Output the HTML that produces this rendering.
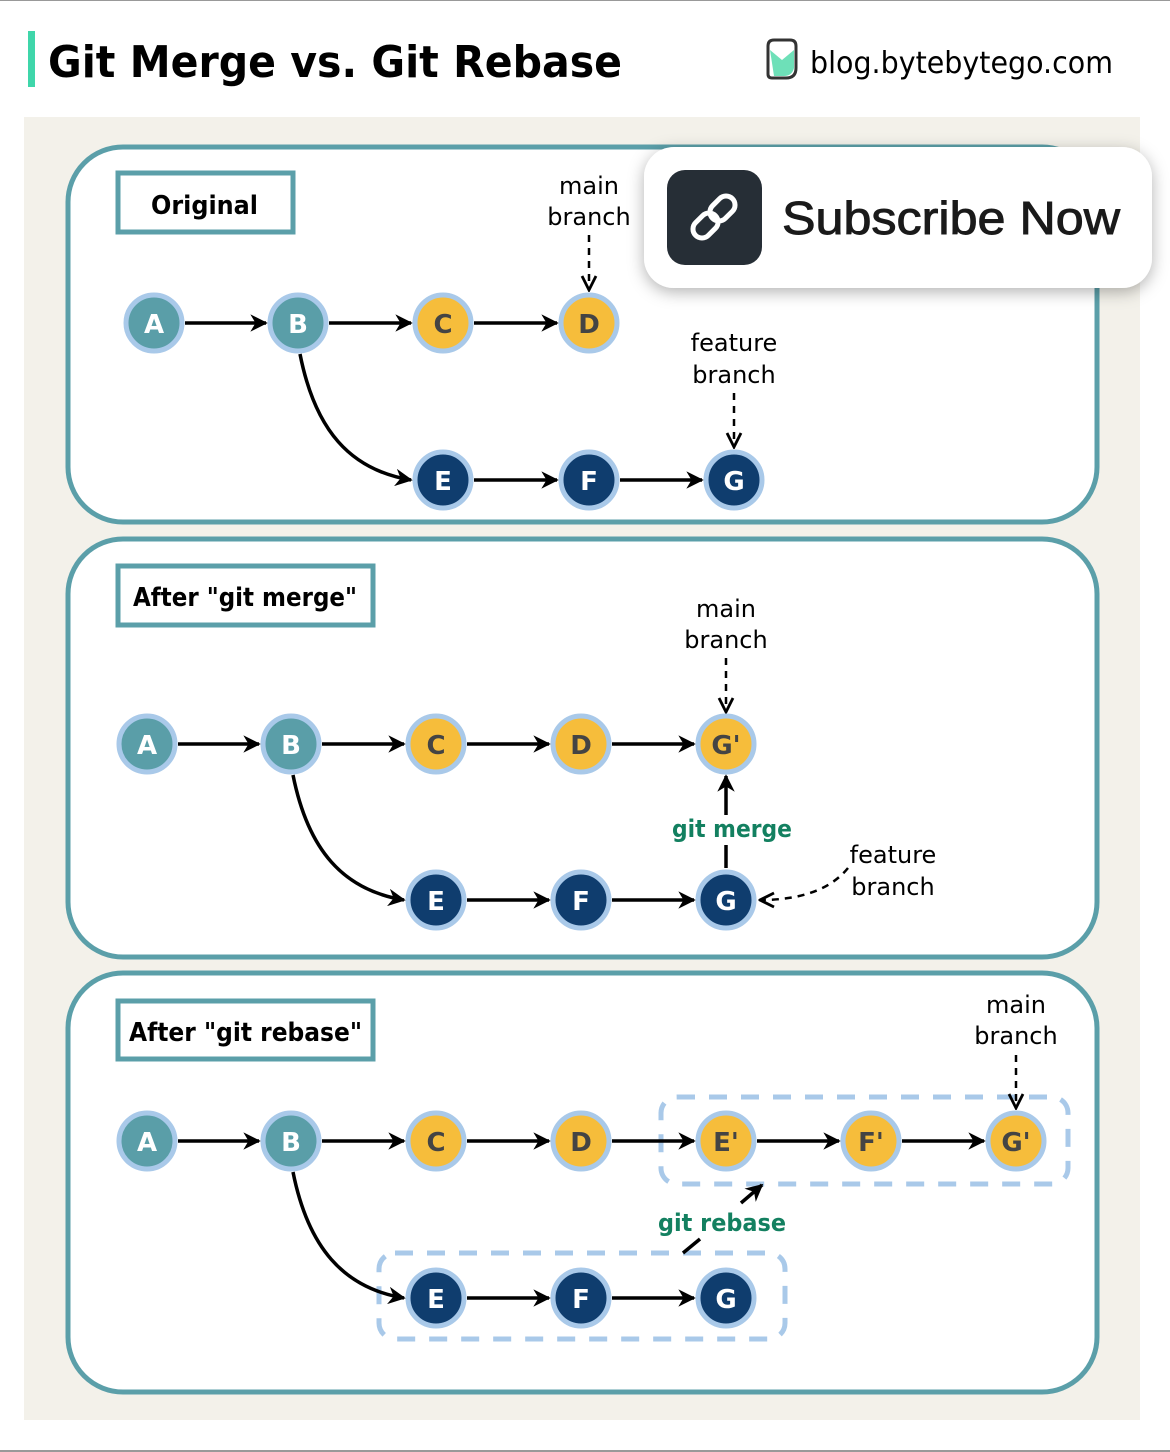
<!DOCTYPE html>
<html><head><meta charset="utf-8"><style>
html,body{margin:0;padding:0;background:#fff;}
svg{display:block}
text{font-family:"Comic Sans MS","DejaVu Sans","Liberation Sans",sans-serif;}
</style></head><body>
<svg width="1170" height="1452" viewBox="0 0 1170 1452" xmlns="http://www.w3.org/2000/svg">
<defs>
<marker id="ar" viewBox="0 0 10 10" refX="9" refY="5" markerWidth="5" markerHeight="5" orient="auto"><path d="M0,0 L10,5 L0,10 L3,5 z" fill="#000"/></marker>
<marker id="oa" viewBox="0 0 10 10" refX="9" refY="5" markerWidth="7" markerHeight="7" orient="auto"><path d="M1,1 L9,5 L1,9" fill="none" stroke="#000" stroke-width="1.6"/></marker>
<filter id="sh" x="-10%" y="-20%" width="120%" height="150%"><feDropShadow dx="0" dy="4" stdDeviation="8" flood-opacity="0.3"/></filter>
</defs>
<rect x="0" y="0" width="1170" height="1" fill="#999"/>
<rect x="0" y="1450" width="1170" height="2" fill="#999"/>
<rect x="28" y="31" width="7" height="56" fill="#3fd6aa"/>
<text x="48" y="77" font-size="44" font-weight="bold" fill="#000" textLength="574" lengthAdjust="spacingAndGlyphs">Git Merge vs. Git Rebase</text>
<g transform="translate(766,40)">
<path d="M2,6 Q2,0 8,0 L24,0 Q30,0 30,6 L30,28 Q30,38 20,38 L6,38 Q2,38 2,34 z" fill="#fff" stroke="#333" stroke-width="3"/>
<path d="M4,10 L16,20 L28,10 L28,28 Q26,36 18,36 L8,36 Z" fill="#6ee0b8"/>
</g>
<text x="810" y="73" font-size="30" fill="#000" textLength="303" lengthAdjust="spacingAndGlyphs">blog.bytebytego.com</text>
<rect x="24" y="117" width="1116" height="1303" fill="#f3f1ea"/>

<g fill="#fff" stroke="#5b9fa9" stroke-width="5">
<rect x="68" y="147" width="1029" height="375" rx="55"/>
<rect x="68" y="539" width="1029" height="418" rx="55"/>
<rect x="68" y="973" width="1029" height="419" rx="55"/>
<rect x="118" y="173" width="175" height="59" stroke-width="5"/>
<rect x="118" y="566" width="255" height="59" stroke-width="5"/>
<rect x="118" y="1001" width="255" height="58" stroke-width="5"/>
</g>
<g font-size="26" font-weight="bold" fill="#000">
<text x="151" y="214" textLength="107" lengthAdjust="spacingAndGlyphs">Original</text>
<text x="133" y="606" textLength="224" lengthAdjust="spacingAndGlyphs">After "git merge"</text>
<text x="129" y="1041" textLength="233" lengthAdjust="spacingAndGlyphs">After "git rebase"</text>
</g>

<g fill="none" stroke="#a9c9e9" stroke-width="5" stroke-dasharray="18,14">
<rect x="661" y="1097" width="407" height="87" rx="16"/>
<rect x="379" y="1253" width="406" height="86" rx="16"/>
</g>

<g stroke="#000" stroke-width="3.5" fill="none" marker-end="url(#ar)">
<line x1="185" y1="323" x2="266" y2="323"/><line x1="329" y1="323" x2="411" y2="323"/><line x1="474" y1="323" x2="557" y2="323"/>
<line x1="474" y1="480" x2="557" y2="480"/><line x1="620" y1="480" x2="702" y2="480"/>
<path d="M300,354 C315,430 350,470 411,480"/>
<line x1="178" y1="744" x2="259" y2="744"/><line x1="322" y1="744" x2="404" y2="744"/><line x1="467" y1="744" x2="549" y2="744"/><line x1="612" y1="744" x2="694" y2="744"/>
<line x1="467" y1="900" x2="549" y2="900"/><line x1="612" y1="900" x2="694" y2="900"/>
<path d="M293,775 C308,850 343,890 404,900"/>
<line x1="726" y1="845" x2="726" y2="868" marker-end="none"/>
<line x1="726" y1="815" x2="726" y2="776"/>
<line x1="178" y1="1141" x2="259" y2="1141"/><line x1="322" y1="1141" x2="404" y2="1141"/><line x1="467" y1="1141" x2="549" y2="1141"/><line x1="612" y1="1141" x2="694" y2="1141"/>
<line x1="757" y1="1141" x2="839" y2="1141"/><line x1="902" y1="1141" x2="984" y2="1141"/>
<line x1="467" y1="1298" x2="549" y2="1298"/><line x1="612" y1="1298" x2="694" y2="1298"/>
<path d="M293,1172 C308,1247 343,1288 404,1298"/>
<line x1="741" y1="1203" x2="762" y2="1185"/>
<line x1="683" y1="1253" x2="700" y2="1239" marker-end="none"/>
</g>
<g stroke="#000" stroke-width="2.5" fill="none" stroke-dasharray="7,6" marker-end="url(#oa)">
<line x1="589" y1="235" x2="589" y2="290"/>
<line x1="734" y1="393" x2="734" y2="447"/>
<line x1="726" y1="658" x2="726" y2="712"/>
<path d="M848,868 C830,890 800,900 760,900"/>
<line x1="1016" y1="1055" x2="1016" y2="1108"/>
</g>
<g font-size="24" fill="#000" text-anchor="middle">
<text x="589" y="194">main</text><text x="589" y="225">branch</text>
<text x="734" y="351">feature</text><text x="734" y="383">branch</text>
<text x="726" y="617">main</text><text x="726" y="648">branch</text>
<text x="893" y="863">feature</text><text x="893" y="895">branch</text>
<text x="1016" y="1013">main</text><text x="1016" y="1044">branch</text>
</g>
<g font-size="24" font-weight="bold" fill="#138060">
<text x="672" y="837" textLength="120" lengthAdjust="spacingAndGlyphs">git merge</text>
<text x="658" y="1231" textLength="128" lengthAdjust="spacingAndGlyphs">git rebase</text>
</g>

<g stroke="#a9c9e9" stroke-width="5">
<g fill="#5a9ea8"><circle cx="154" cy="323" r="28"/><circle cx="298" cy="323" r="28"/><circle cx="147" cy="744" r="28"/><circle cx="291" cy="744" r="28"/><circle cx="147" cy="1141" r="28"/><circle cx="291" cy="1141" r="28"/></g>
<g fill="#f6bd3b"><circle cx="443" cy="323" r="28"/><circle cx="589" cy="323" r="28"/><circle cx="436" cy="744" r="28"/><circle cx="581" cy="744" r="28"/><circle cx="726" cy="744" r="28"/>
<circle cx="436" cy="1141" r="28"/><circle cx="581" cy="1141" r="28"/><circle cx="726" cy="1141" r="28"/><circle cx="871" cy="1141" r="28"/><circle cx="1016" cy="1141" r="28"/></g>
<g fill="#0f3d6e"><circle cx="443" cy="480" r="28"/><circle cx="589" cy="480" r="28"/><circle cx="734" cy="480" r="28"/>
<circle cx="436" cy="900" r="28"/><circle cx="581" cy="900" r="28"/><circle cx="726" cy="900" r="28"/>
<circle cx="436" cy="1298" r="28"/><circle cx="581" cy="1298" r="28"/><circle cx="726" cy="1298" r="28"/></g>
</g>
<g font-size="26" font-weight="bold" text-anchor="middle">
<g fill="#fff"><text x="154" y="333">A</text><text x="298" y="333">B</text><text x="147" y="754">A</text><text x="291" y="754">B</text><text x="147" y="1151">A</text><text x="291" y="1151">B</text>
<text x="443" y="490">E</text><text x="589" y="490">F</text><text x="734" y="490">G</text>
<text x="436" y="910">E</text><text x="581" y="910">F</text><text x="726" y="910">G</text>
<text x="436" y="1308">E</text><text x="581" y="1308">F</text><text x="726" y="1308">G</text></g>
<g fill="#444"><text x="443" y="333">C</text><text x="589" y="333">D</text><text x="436" y="754">C</text><text x="581" y="754">D</text><text x="726" y="754">G'</text>
<text x="436" y="1151">C</text><text x="581" y="1151">D</text><text x="726" y="1151">E'</text><text x="871" y="1151">F'</text><text x="1016" y="1151">G'</text></g>
</g>

<rect x="644" y="147" width="508" height="141" rx="30" fill="#fff" filter="url(#sh)"/>
<rect x="667" y="170" width="95" height="95" rx="18" fill="#262e36"/>
<g fill="none" stroke="#fff" stroke-width="5" stroke-linecap="round" transform="translate(714,217) rotate(-45)">
<rect x="-26" y="-9" width="28" height="18" rx="9"/>
<rect x="-2" y="-9" width="28" height="18" rx="9"/>
</g>
<text x="782" y="234" font-size="46" fill="#1a1a1a" stroke="#1a1a1a" stroke-width="0.9" textLength="338" lengthAdjust="spacingAndGlyphs" style="font-family:'Liberation Sans',sans-serif">Subscribe Now</text>
</svg>
</body></html>
